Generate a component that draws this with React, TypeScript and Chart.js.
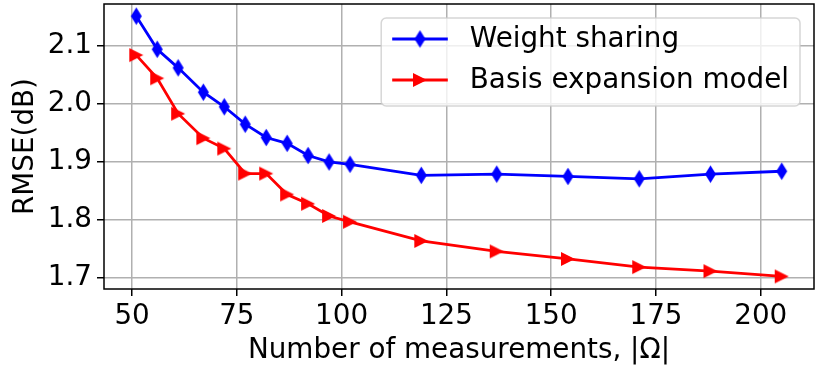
import React, { useEffect, useRef } from "react";
import { Chart, registerables } from "chart.js";

Chart.register(...registerables);

const xValues = [51, 56, 61, 67, 72, 77, 82, 87, 92, 97, 102, 119, 137, 154, 171, 188, 205];
const weightSharing = [2.151, 2.094, 2.062, 2.02, 1.995, 1.965, 1.942, 1.932, 1.911, 1.9, 1.896, 1.877, 1.879, 1.875, 1.871, 1.879, 1.884];
const basisExpansion = [2.084, 2.044, 1.983, 1.941, 1.923, 1.88, 1.88, 1.844, 1.828, 1.807, 1.797, 1.764, 1.746, 1.733, 1.719, 1.712, 1.703];
const xTicks = [50, 75, 100, 125, 150, 175, 200];
const yTicks = [1.7, 1.8, 1.9, 2.0, 2.1];
const seriesLabels = ["Weight sharing", "Basis expansion model"];
const xTitle = "Number of measurements, |Ω|";
const yTitle = "RMSE(dB)";

const FONT_FAMILY = "'DejaVu Sans', sans-serif";
const FONT_SIZE = 27.8;

function makeDiamond(color: string) {
  const c = document.createElement("canvas");
  c.width = 13;
  c.height = 19;
  const ctx = c.getContext("2d")!;
  ctx.fillStyle = color;
  ctx.beginPath();
  ctx.moveTo(6.5, 0.75);
  ctx.lineTo(12, 9.5);
  ctx.lineTo(6.5, 18.25);
  ctx.lineTo(1, 9.5);
  ctx.closePath();
  ctx.fill();
  return c;
}

function makeTriangle(color: string) {
  const c = document.createElement("canvas");
  c.width = 16;
  c.height = 16;
  const ctx = c.getContext("2d")!;
  ctx.fillStyle = color;
  ctx.beginPath();
  ctx.moveTo(1, 1);
  ctx.lineTo(15, 8);
  ctx.lineTo(1, 15);
  ctx.closePath();
  ctx.fill();
  return c;
}

const frameLegendPlugin = {
  id: "frameLegend",
  afterDatasetsDraw(chart: any) {
    const { ctx, chartArea: ca } = chart;
    ctx.save();
    // frame (spines)
    ctx.strokeStyle = "#000";
    ctx.lineWidth = 1.5;
    ctx.strokeRect(ca.left, ca.top, ca.right - ca.left, ca.bottom - ca.top);

    // legend
    const font = `${FONT_SIZE}px ${FONT_FAMILY}`;
    ctx.font = font;
    const datasets = chart.data.datasets;
    let maxW = 0;
    datasets.forEach((d: any) => {
      maxW = Math.max(maxW, ctx.measureText(d.label).width);
    });
    const pad = 11;
    const handleLen = 55.6;
    const handlePad = 22;
    const boxW = pad + handleLen + handlePad + maxW + pad;
    const boxH = 88;
    const right = ca.right - 14;
    const top = ca.top + 14;
    const left = right - boxW;
    ctx.beginPath();
    (ctx as any).roundRect(left, top, boxW, boxH, 5);
    ctx.fillStyle = "rgba(255,255,255,0.8)";
    ctx.fill();
    ctx.strokeStyle = "rgba(204,204,204,0.8)";
    ctx.lineWidth = 1.5;
    ctx.stroke();

    const rows = [top + 21, top + 62];
    datasets.forEach((d: any, i: number) => {
      const y = rows[i];
      const x0 = left + pad;
      ctx.strokeStyle = d.borderColor;
      ctx.lineWidth = d.borderWidth;
      ctx.beginPath();
      ctx.moveTo(x0, y);
      ctx.lineTo(x0 + handleLen, y);
      ctx.stroke();
      const img = d.pointStyle as HTMLCanvasElement;
      ctx.drawImage(img, x0 + handleLen / 2 - img.width / 2, y - img.height / 2);
      ctx.fillStyle = "#000";
      ctx.textBaseline = "middle";
      ctx.textAlign = "left";
      ctx.fillText(d.label, x0 + handleLen + handlePad, y + 1);
    });
    ctx.restore();
  },
};

export default function App() {
  const canvasRef = useRef<HTMLCanvasElement | null>(null);

  useEffect(() => {
    if (!canvasRef.current) return;
    const font = { family: FONT_FAMILY, size: FONT_SIZE };
    const gridCommon = {
      color: "#b0b0b0",
      lineWidth: 1.5,
      tickColor: "#000",
      tickLength: 7,
      tickWidth: 1.5,
    };
    const chart = new Chart(canvasRef.current, {
      type: "line",
      data: {
        datasets: [
          {
            label: seriesLabels[0],
            data: xValues.map((x, i) => ({ x, y: weightSharing[i] })),
            borderColor: "#0000ff",
            backgroundColor: "#0000ff",
            borderWidth: 2.8,
            pointStyle: makeDiamond("#0000ff") as any,
            pointRadius: 0.5,
            pointBorderWidth: 0,
            tension: 0,
          },
          {
            label: seriesLabels[1],
            data: xValues.map((x, i) => ({ x, y: basisExpansion[i] })),
            borderColor: "#ff0000",
            backgroundColor: "#ff0000",
            borderWidth: 2.8,
            pointStyle: makeTriangle("#ff0000") as any,
            pointRadius: 0.5,
            pointBorderWidth: 0,
            tension: 0,
          },
        ],
      },
      options: {
        animation: false,
        responsive: false,
        layout: { padding: { left: 0, right: 17, top: 1, bottom: 0 } },
        plugins: {
          legend: { display: false },
          tooltip: { enabled: false },
        },
        scales: {
          x: {
            type: "linear",
            min: 43.3,
            max: 212.7,
            afterBuildTicks: (s: any) => {
              s.ticks = xTicks.map((v) => ({ value: v }));
            },
            afterFit: (s: any) => {
              s.height = 91;
              s.paddingLeft = 0;
              s.paddingRight = 0;
              s.paddingTop = 0;
              s.paddingBottom = 0;
            },
            grid: gridCommon,
            border: { display: false },
            ticks: {
              font,
              color: "#000",
              padding: 4,
              maxRotation: 0,
              autoSkip: false,
              callback: (v: any) => String(v),
            },
            title: {
              display: true,
              text: xTitle,
              font,
              color: "#000",
              padding: { top: 0, bottom: 12.6 },
            },
          },
          y: {
            type: "linear",
            min: 1.6813,
            max: 2.1719,
            afterBuildTicks: (s: any) => {
              s.ticks = yTicks.map((v) => ({ value: v }));
            },
            afterFit: (s: any) => {
              s.width = 104;
              s.paddingLeft = 0;
              s.paddingRight = 0;
              s.paddingTop = 0;
              s.paddingBottom = 0;
            },
            grid: gridCommon,
            border: { display: false },
            ticks: {
              font,
              color: "#000",
              padding: 5,
              autoSkip: false,
              callback: (v: any) => Number(v).toFixed(1),
            },
            title: {
              display: true,
              text: yTitle,
              font,
              color: "#000",
              padding: { top: 9.3, bottom: 0 },
            },
          },
        },
      },
      plugins: [frameLegendPlugin],
    } as any);
    return () => chart.destroy();
  }, []);

  return (
    <div style={{ position: "fixed", left: 0, top: 0, width: 831, height: 380, background: "#fff" }}>
      <canvas ref={canvasRef} width={831} height={380} style={{ display: "block" }} />
    </div>
  );
}
